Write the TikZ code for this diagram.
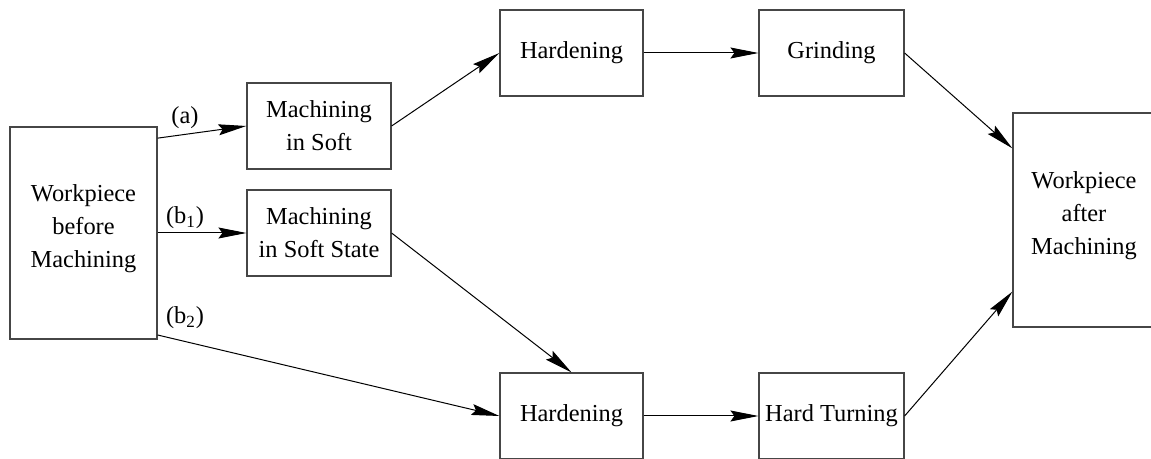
\documentclass[tikz,border=0pt]{standalone}
\usepackage{fontspec}
\setmainfont{Liberation Serif}
\usepackage{tikz}
\usetikzlibrary{positioning,arrows.meta}
\definecolor{boxgray}{RGB}{70,70,70}
\colorlet{flowblack}{black}

\begin{document}
\begin{tikzpicture}[x=0.5pt,y=-0.5pt,
    every node/.style={font=\fontsize{12.2}{16.5}\selectfont},
    procbox/.style={draw=boxgray,line width=0.6pt,align=center,inner sep=0pt},
    flow/.style={-{Stealth[length=14pt,width=5.5pt,inset=2pt]},draw=flowblack,line width=0.5pt}]
        \clip (0,0) rectangle (1151,459);
        \useasboundingbox (0,0) rectangle (1151,459);
        \node[procbox,minimum width=73.5pt,minimum height=106pt,text depth=7pt] (before) at (83.5,233) {Workpiece\\before\\Machining};
        \node[procbox,minimum width=72pt,minimum height=43pt] (soft) at (319,126) {Machining\\in Soft};
        \node[procbox,minimum width=72pt,minimum height=43pt] (softstate) at (319,233) {Machining\\in Soft State};
        \node[procbox,minimum width=71.5pt,minimum height=43pt] (hardtop) at (571.5,53) {Hardening};
        \node[procbox,minimum width=72.5pt,minimum height=43pt] (grind) at (831.5,53) {Grinding};
        \node[procbox,minimum width=71.5pt,minimum height=43pt] (hardbot) at (571.5,416) {Hardening};
        \node[procbox,minimum width=72.5pt,minimum height=43pt] (turn) at (831.5,416) {Hard Turning};
        \node[procbox,minimum width=71pt,minimum height=107pt,text depth=7pt] (after) at (1084,220) {Workpiece\\after\\Machining};
        \node (la) at (185,118) {(a)};
        \node (lb1) at (185,218) {(b\textsubscript{1})};
        \node (lb2) at (185,318) {(b\textsubscript{2})};
        \draw[flow] (before.52.8)--(soft.west);
        \draw[flow] (before.east)--(softstate.west);
        \draw[flow] (before.-54)--(hardbot.west);
        \draw[flow] (soft.east)--(hardtop.west);
        \draw[flow] (softstate.east)--(hardbot.north);
        \draw[flow] (hardtop.east)--(grind.west);
        \draw[flow] (hardbot.east)--(turn.west);
        \draw[flow] (grind.east)--(after.135);
        \draw[flow] (turn.east)--(after.-135);
      \end{tikzpicture}
\end{document}
